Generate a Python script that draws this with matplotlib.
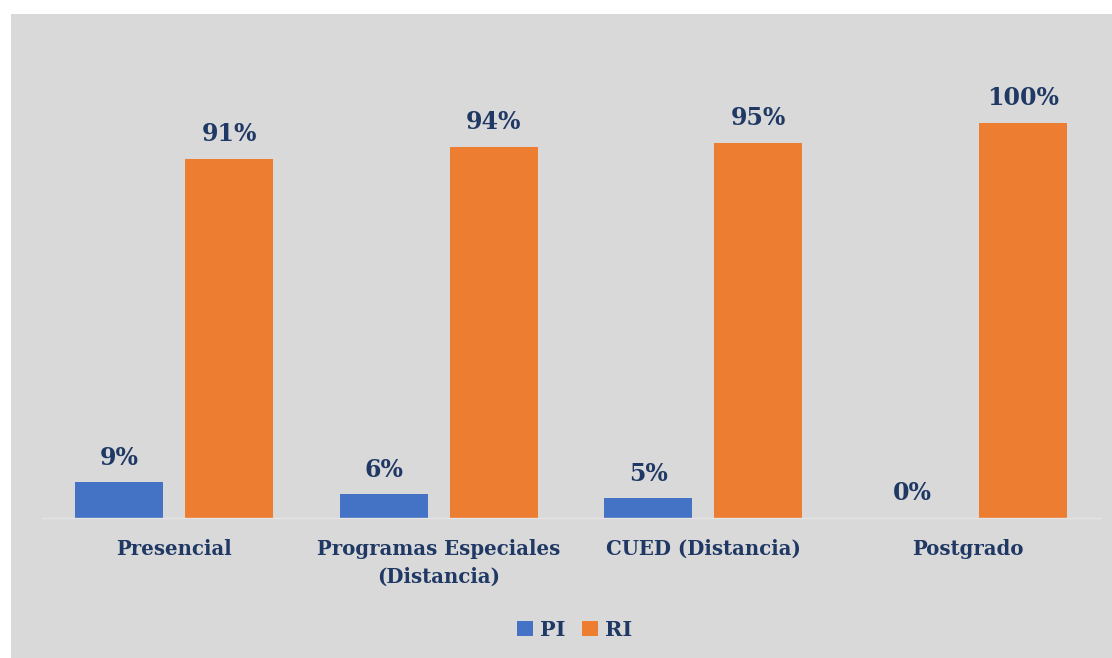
import numpy as np
import matplotlib
matplotlib.use("Agg")
import matplotlib.pyplot as plt
from matplotlib.patches import Rectangle

categories = ["Presencial", "Programas Especiales\n(Distancia)", "CUED (Distancia)", "Postgrado"]
pi_vals = [9, 6, 5, 0]
ri_vals = [91, 94, 95, 100]
series_names = ["PI", "RI"]

blue = "#4472C4"
orange = "#ED7D31"
navy = "#1F3864"
bg = "#D9D9D9"

plt.rcParams['font.family'] = ['DejaVu Serif']
plt.rcParams['font.weight'] = 'bold'

W, H = 1112, 658
fig = plt.figure(figsize=(W / 100, H / 100), dpi=100)
fig.patch.set_facecolor("white")
# gray chart area, offset from the top-left corner like the original
fig.patches.append(Rectangle((11 / W, 0), 1 - 11 / W, 1 - 14 / H, transform=fig.transFigure,
                             facecolor=bg, edgecolor="none", zorder=-10))

ax = fig.add_axes([42 / W, (H - 518) / H, (1100 - 42) / W, (518 - 123) / H])
ax.patch.set_alpha(0)

x = np.arange(len(categories))
bw = 0.333
off = 0.208
b1 = ax.bar(x - off, pi_vals, bw, color=blue, label=series_names[0])
b2 = ax.bar(x + off, ri_vals, bw, color=orange, label=series_names[1])

for bars, vals in ((b1, pi_vals), (b2, ri_vals)):
    for b, v in zip(bars, vals):
        ax.text(b.get_x() + b.get_width() / 2, v + 3.2, f"{v}%", ha="center", va="bottom",
                fontsize=17, fontweight="bold", color=navy, clip_on=False)

ax.set_xlim(-0.5, len(categories) - 0.5)
ax.set_ylim(0, 100)
for s in ["top", "right", "left"]:
    ax.spines[s].set_visible(False)
ax.spines["bottom"].set_color("#E4E4E4")
ax.spines["bottom"].set_linewidth(1)
ax.set_yticks([])
ax.set_xticks(x)
ax.set_xticklabels(categories, fontsize=14.2, fontweight="bold", color=navy, linespacing=1.5)
ax.tick_params(axis="x", length=0, pad=15)

leg = fig.legend(handles=[b1, b2], labels=series_names, loc="center", bbox_to_anchor=(575 / W, (H - 630) / H),
                 ncol=2, frameon=False, handlelength=0.75, handleheight=0.75, handletextpad=0.35,
                 columnspacing=0.8, prop={"size": 15, "weight": "bold"})
for t in leg.get_texts():
    t.set_color(navy)

fig.savefig("out.png", dpi=100, facecolor=fig.get_facecolor())
